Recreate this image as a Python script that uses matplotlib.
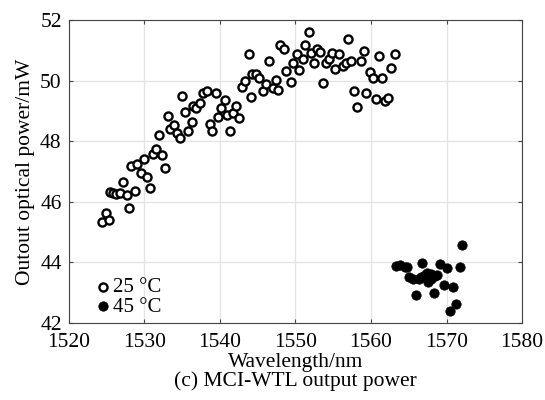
import matplotlib
matplotlib.use("Agg")
import matplotlib.pyplot as plt

# 25 °C (open circles)
wl_25 = [1524.4, 1524.9, 1525.4, 1525.5, 1525.9, 1526.3, 1526.8, 1527.2, 1527.7, 1528.0,
         1528.3, 1528.8, 1529.1, 1529.6, 1530.0, 1530.3, 1530.8, 1531.1, 1531.6, 1531.9,
         1532.3, 1532.7, 1533.1, 1533.4, 1533.9, 1534.3, 1534.7, 1535.0, 1535.4, 1535.8,
         1536.3, 1536.5, 1536.9, 1537.4, 1537.8, 1538.3, 1538.7, 1539.0, 1539.5, 1539.8,
         1540.2, 1540.7, 1541.0, 1541.4, 1541.7, 1542.2, 1542.6, 1542.9, 1543.3, 1543.8,
         1544.1, 1544.3, 1544.8, 1545.2, 1545.7, 1546.1, 1546.5, 1547.0, 1547.4, 1547.7,
         1548.0, 1548.5, 1548.8, 1549.4, 1549.7, 1550.2, 1550.5, 1550.95, 1551.3, 1551.8,
         1552.1, 1552.5, 1552.9, 1553.3, 1553.7, 1554.0, 1554.5, 1554.8, 1555.3, 1555.8,
         1556.3, 1556.7, 1557.0, 1557.4, 1557.8, 1558.2, 1558.7, 1559.1, 1559.4, 1559.9,
         1560.3, 1560.7, 1561.1, 1561.5, 1561.9, 1562.3, 1562.7, 1563.2]
pw_25 = [45.34, 45.63, 45.40, 46.33, 46.28, 46.27, 46.30, 46.65, 46.23, 45.80,
         47.18, 46.35, 47.24, 46.96, 47.41, 46.82, 46.46, 47.58, 47.74, 48.20,
         47.54, 47.12, 48.83, 48.39, 48.53, 48.28, 48.11, 49.49, 48.97, 48.33,
         48.63, 49.16, 49.10, 49.27, 49.58, 49.65, 48.55, 48.33, 49.60, 48.81,
         49.11, 49.36, 48.86, 48.33, 48.92, 49.16, 48.77, 49.80, 49.98, 50.88,
         49.47, 50.22, 50.22, 50.07, 49.67, 49.87, 50.65, 49.74, 50.02, 49.69,
         51.17, 51.03, 50.31, 49.96, 50.57, 50.87, 50.35, 50.70, 51.17, 51.59,
         50.92, 50.59, 51.04, 50.95, 49.91, 50.57, 50.70, 50.90, 50.37, 50.88,
         50.49, 50.59, 51.36, 50.66, 49.67, 49.14, 50.66, 50.99, 49.58, 50.29,
         50.09, 49.38, 50.81, 50.09, 49.32, 49.43, 50.40, 50.87]

# 45 °C (filled circles)
wl_45 = [1563.3, 1563.8, 1564.5, 1564.8, 1565.0, 1565.5, 1565.9, 1566.3, 1566.8, 1567.1,
         1567.4, 1567.6, 1568.0, 1568.4, 1568.8, 1569.2, 1569.6, 1570.0, 1570.4, 1570.9,
         1571.2, 1571.8, 1572.1, 1566.6, 1567.9, 1568.5]
pw_45 = [43.88, 43.91, 43.85, 43.85, 43.52, 43.43, 42.91, 43.43, 43.96, 43.57,
         43.63, 43.35, 43.61, 42.99, 43.57, 43.93, 43.24, 43.80, 42.39, 43.17,
         42.62, 43.85, 44.57, 43.50, 43.45, 43.55]

xticks = [1520, 1530, 1540, 1550, 1560, 1570, 1580]
yticks = [42, 44, 46, 48, 50, 52]

plt.rcParams['font.family'] = ['Liberation Serif', 'DejaVu Serif']

fig = plt.figure(figsize=(5.45, 4.0), dpi=100)
ax = fig.add_axes([0.126, 0.193, 0.832, 0.757])

ax.scatter(wl_25, pw_25, s=34, facecolors='white', edgecolors='black',
           linewidths=1.7, label='25 °C', zorder=3)
ax.scatter(wl_45, pw_45, s=46, facecolors='black', edgecolors='black',
           linewidths=0.5, label='45 °C', zorder=3)

ax.set_xlim(1520, 1580)
ax.set_ylim(42, 52)
ax.set_xticks(xticks)
ax.set_yticks(yticks)
ax.grid(True, color='#e3e3e3', linewidth=0.9, zorder=0)
ax.set_axisbelow(True)
ax.tick_params(direction='in', top=True, right=True, labelsize=15.5,
               length=3, color='#444444')
ax.tick_params(axis='x', pad=7)
ax.tick_params(axis='y', pad=5)
for sp in ax.spines.values():
    sp.set_color('#444444')
    sp.set_linewidth(0.8)

ax.set_xlabel('Wavelength/nm', fontsize=15.5, labelpad=1)
ax.set_ylabel('Outout optical power/mW', fontsize=15.5, labelpad=4)

leg = ax.legend(loc='lower left', bbox_to_anchor=(0.005, -0.035), frameon=False,
                fontsize=15, handletextpad=-0.3, labelspacing=0.0,
                handlelength=1.5, borderpad=0.3)

fig.text(0.5425, 0.048, '(c) MCI-WTL output power', ha='center', va='center', fontsize=15.5)

fig.savefig('out.png', dpi=100)
